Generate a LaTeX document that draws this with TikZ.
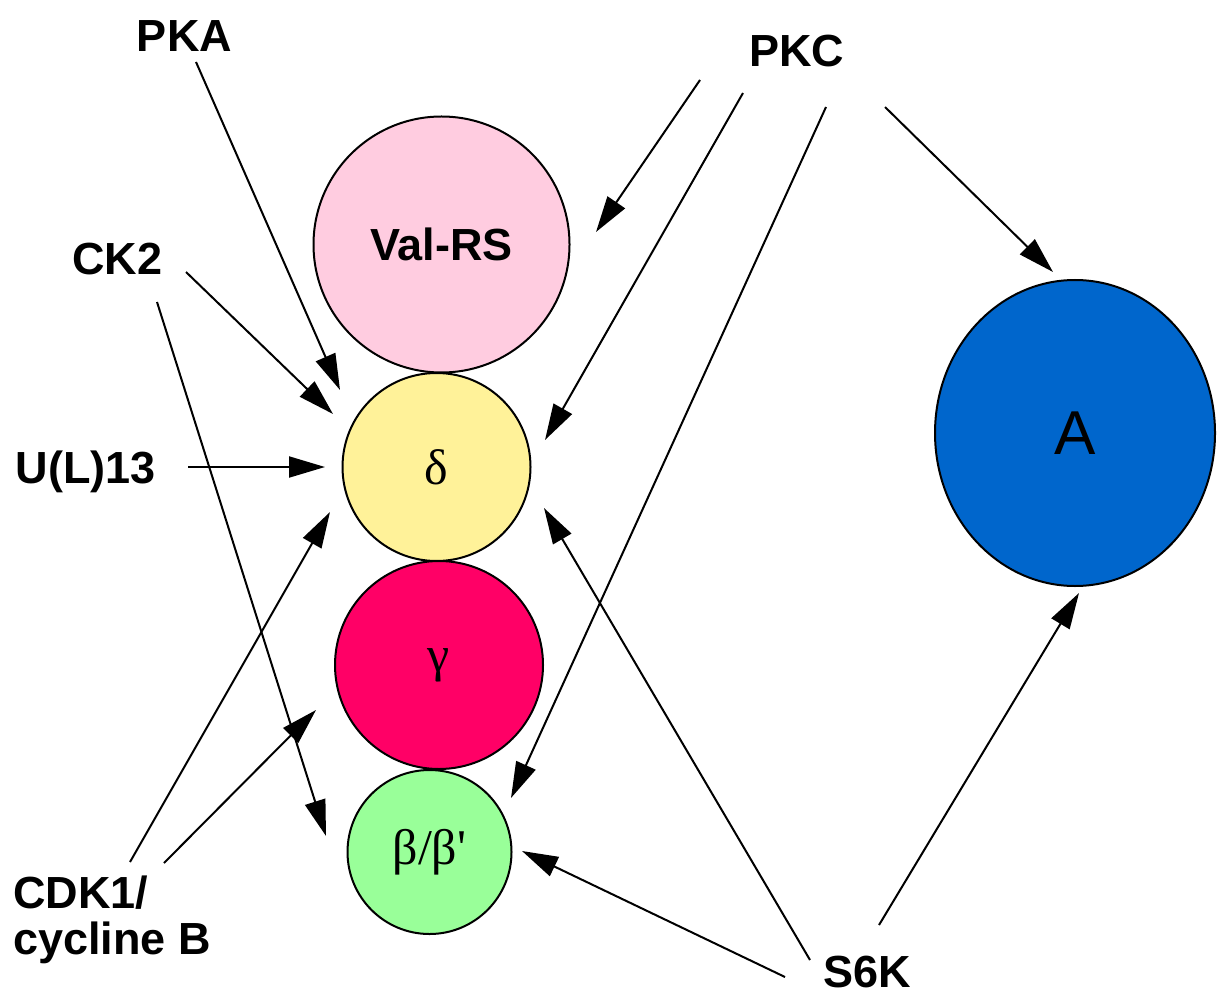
\documentclass[tikz,border=0pt]{standalone}
\usepackage{fontspec}
\setmainfont{Liberation Sans}
\newfontfamily\greekfont{Liberation Serif}
\usetikzlibrary{arrows.meta}
\usetikzlibrary{shapes.geometric}

\definecolor{valrsfill}{HTML}{FFCCE0}
\definecolor{deltafill}{HTML}{FFF299}
\definecolor{gammafill}{HTML}{FF0066}
\definecolor{betafill}{HTML}{99FF99}
\definecolor{afill}{HTML}{0066CC}

\begin{document}
\begin{tikzpicture}[x=0.5pt,y=-0.5pt,
	subunit/.style={draw,circle,line width=1pt,inner sep=0pt,font=\greekfont\fontsize{25}{25}\selectfont},
	kinase/.style={font=\bfseries\fontsize{22.5}{23}\selectfont,inner sep=0pt},
	phos/.style={line width=1pt,-{Triangle[length=18pt,width=10.5pt]}}]
	\useasboundingbox (0,0) rectangle (1218,994);
	\node[subunit,fill=valrsfill,minimum size=128pt,font=\bfseries\fontsize{22.5}{23}\selectfont] (valrs) at (441.5,244.5) {Val-RS};
	\node[subunit,fill=deltafill,minimum size=94pt] (delta) at (436.5,467) {δ};
	\node[subunit,fill=gammafill,minimum size=104pt] (gamma) at (439,665) {γ};
	\node[subunit,fill=betafill,minimum size=82pt] (beta) at (429.5,852) {β/β\char"27};
	\node[draw,ellipse,line width=1pt,inner sep=0pt,fill=afill,minimum width=140pt,minimum height=153pt,font=\fontsize{31}{31}\selectfont] (A) at (1075,433) {A};
	%
	\node[kinase,anchor=base] (pka) at (184.5,51.5) {PKA};
	\node[kinase,anchor=base] (pkc) at (796.5,66.5) {PKC};
	\node[kinase,anchor=base] (ck2) at (117.5,274.5) {CK2};
	\node[kinase,anchor=base] (ul13) at (86,483) {U(L)13};
	\node[kinase,anchor=north west,align=left] (cdk1) at (13,875) {CDK1/\\cycline B};
	\node[kinase,anchor=base] (s6k) at (867.5,987) {S6K};
	%
	\coordinate (pka-s) at (196,62);
	\coordinate (pka-t) at (340,390);
	\coordinate (ck2-s1) at (186,272);
	\coordinate (ck2-t1) at (333,414);
	\coordinate (ck2-s2) at (157,302);
	\coordinate (ck2-t2) at (326,836);
	\coordinate (ul13-s) at (188,467);
	\coordinate (ul13-t) at (325,467);
	\coordinate (cdk-s1) at (130,862);
	\coordinate (cdk-t1) at (330,512);
	\coordinate (cdk-s2) at (164,863);
	\coordinate (cdk-t2) at (316,710);
	\coordinate (pkc-s1) at (700,80);
	\coordinate (pkc-t1) at (596,232);
	\coordinate (pkc-s2) at (743,93);
	\coordinate (pkc-t2) at (545,440);
	\coordinate (pkc-s3) at (826,107);
	\coordinate (pkc-t3) at (511,798);
	\coordinate (pkc-s4) at (885,107);
	\coordinate (pkc-t4) at (1053,272);
	\coordinate (s6k-s1) at (810,960);
	\coordinate (s6k-t1) at (544,508);
	\coordinate (s6k-s2) at (785,977);
	\coordinate (s6k-t2) at (522,851);
	\coordinate (s6k-s3) at (879,925);
	\coordinate (s6k-t3) at (1079,593);
	%
	\draw[phos] (pka-s) -- (pka-t);
	\draw[phos] (ck2-s1) -- (ck2-t1);
	\draw[phos] (ck2-s2) -- (ck2-t2);
	\draw[phos] (ul13-s) -- (ul13-t);
	\draw[phos] (cdk-s1) -- (cdk-t1);
	\draw[phos] (cdk-s2) -- (cdk-t2);
	\draw[phos] (pkc-s1) -- (pkc-t1);
	\draw[phos] (pkc-s2) -- (pkc-t2);
	\draw[phos] (pkc-s3) -- (pkc-t3);
	\draw[phos] (pkc-s4) -- (pkc-t4);
	\draw[phos] (s6k-s1) -- (s6k-t1);
	\draw[phos] (s6k-s2) -- (s6k-t2);
	\draw[phos] (s6k-s3) -- (s6k-t3);
\end{tikzpicture}
\end{document}
